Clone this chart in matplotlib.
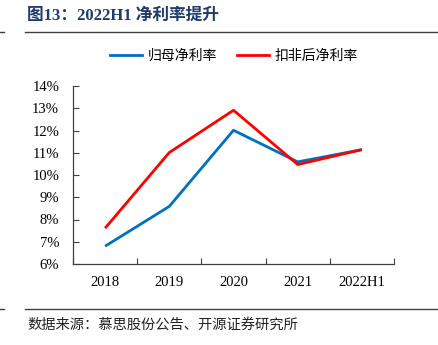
import matplotlib
matplotlib.use("Agg")
import matplotlib.pyplot as plt
from matplotlib.lines import Line2D

categories = ["2018", "2019", "2020", "2021", "2022H1"]
net_margin = [6.80, 8.59, 12.01, 10.59, 11.14]
deducted_margin = [7.61, 11.01, 12.91, 10.47, 11.14]
series_names = ["归母净利率", "扣非后净利率"]
y_ticks = [6, 7, 8, 9, 10, 11, 12, 13, 14]

cjk = ["Noto Sans CJK SC", "DejaVu Sans"]
serif = ["Liberation Serif", "DejaVu Serif"]
title_fonts = ["Liberation Serif", "Noto Sans CJK SC"]

fig = plt.figure(figsize=(4.39, 3.45), dpi=100)
ax = fig.add_axes([73/439, 81/345, 321/439, 178/345])

x = list(range(len(categories)))
ax.plot(x, net_margin, color="#0070C0", lw=2.0, solid_capstyle="butt")
ax.plot(x, deducted_margin, color="#FF0000", lw=2.0, solid_capstyle="butt")

ax.set_xlim(-0.5, len(categories) - 0.5)
ax.set_ylim(6, 14)
ax.set_yticks(y_ticks)
ax.set_yticklabels([f"{v}%" for v in y_ticks], fontfamily=serif, fontsize=10.5)
ax.set_xticks([i - 0.5 for i in range(len(categories) + 1)])
ax.set_xticklabels([])
ax.set_xticks(x, minor=True)
ax.set_xticklabels(categories, minor=True, fontfamily=serif, fontsize=10.5)
ax.tick_params(axis="x", which="major", direction="in", length=4, color="#404040")
ax.tick_params(axis="x", which="minor", length=0, pad=9)
ax.tick_params(axis="y", direction="in", length=4, pad=10, color="#404040")
for s in ["top", "right"]:
    ax.spines[s].set_visible(False)
for s in ["left", "bottom"]:
    ax.spines[s].set_color("#404040")
    ax.spines[s].set_linewidth(0.9)

handles = [Line2D([], [], color="#0070C0", lw=2.0), Line2D([], [], color="#FF0000", lw=2.0)]
fig.legend(handles, series_names, loc="center", bbox_to_anchor=(234/439, 1 - 56/345),
           ncol=2, frameon=False, prop={"family": cjk, "size": 10},
           handlelength=2.3, handletextpad=0.4, columnspacing=1.45,
           borderpad=0, borderaxespad=0)

fig.text(27/439, 1 - 16/345, "图13：2022H1 净利率提升", fontfamily=title_fonts, fontsize=12,
         fontweight="bold", color="#1F3A6E", va="center", ha="left")
fig.add_artist(Line2D([25/439, 437/439], [1 - 32/345] * 2, color="#404040", lw=1.0))
fig.add_artist(Line2D([0, 4/439], [1 - 32/345] * 2, color="#404040", lw=1.0))
fig.add_artist(Line2D([25/439, 437/439], [1 - 309/345] * 2, color="#404040", lw=1.0))
fig.add_artist(Line2D([0, 4/439], [1 - 309/345] * 2, color="#404040", lw=1.0))
fig.text(27/439, 1 - 325/345, "数据来源：慕思股份公告、开源证券研究所", fontfamily=cjk,
         fontsize=10.3, color="#222222", va="center", ha="left")

fig.savefig("out.png", dpi=100)
